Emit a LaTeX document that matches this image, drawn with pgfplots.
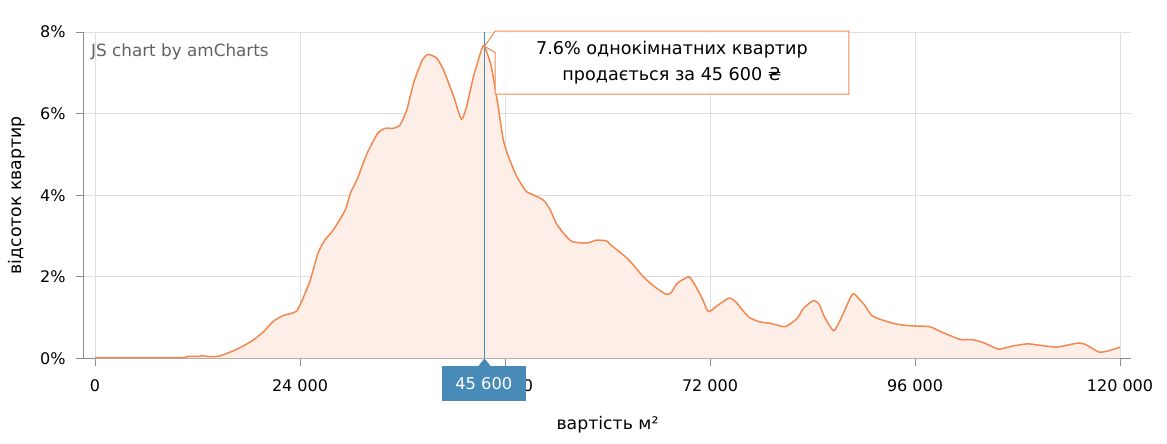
\documentclass[border=0pt]{standalone}
\usepackage{fontspec}
\setmainfont{DejaVu Sans}
\usepackage{pgfplots}
\pgfplotsset{compat=1.18}
\usepackage{pgfplotstable}

\definecolor{linec}{HTML}{F2874F}
\definecolor{fillc}{HTML}{FDEFE7}
\definecolor{bluec}{HTML}{488AB8}
\definecolor{gridc}{HTML}{DEDEDE}
\definecolor{axisc}{HTML}{8C8C8C}

\pgfplotstableread{
x y
0 0.02
10000 0.02
10800 0.05
12000 0.05
12600 0.07
13200 0.05
14300 0.05
15000 0.09
16200 0.19
17300 0.30
18500 0.45
19700 0.65
20800 0.90
22000 1.05
23200 1.12
23600 1.16
24200 1.40
25200 1.92
26100 2.58
26900 2.90
27900 3.15
29300 3.64
29900 4.05
30700 4.40
31800 5.00
33100 5.52
34000 5.64
34900 5.64
35700 5.72
36500 6.09
37300 6.75
38300 7.31
39000 7.45
40000 7.36
40800 7.07
42000 6.41
42900 5.86
43500 6.17
44300 6.90
45300 7.60
45600 7.65
46400 7.15
47200 6.17
47800 5.35
48400 4.95
49400 4.45
50500 4.09
51300 4.01
52500 3.88
53300 3.64
54000 3.31
55000 3.03
55900 2.86
57600 2.83
58700 2.90
59900 2.88
60400 2.78
61600 2.58
62700 2.37
64200 2.00
65500 1.76
66800 1.58
67400 1.60
68200 1.85
69500 2.00
70100 1.85
71000 1.51
71800 1.15
72700 1.27
74200 1.48
75000 1.39
76500 1.02
77800 0.90
79100 0.86
80800 0.78
82200 0.98
82900 1.22
84100 1.42
84800 1.32
85400 1.02
86500 0.68
87500 1.06
88600 1.56
89000 1.56
90100 1.31
90900 1.06
92200 0.94
93900 0.84
95600 0.80
97700 0.78
99000 0.66
100700 0.51
101500 0.46
102800 0.46
104100 0.38
105800 0.23
107500 0.31
109200 0.36
110400 0.33
112600 0.28
115100 0.38
116000 0.34
117500 0.16
118500 0.18
120000 0.28
}\pricedata

\begin{document}
\begin{tikzpicture}[x=1pt,y=1pt]
\useasboundingbox (-84,-85.5) rectangle (1083,358.5);
\begin{axis}[
  at={(0,0)}, anchor=south west,
  scale only axis, width=1047pt, height=326.5pt,
  xmin=-1290, xmax=121290, ymin=0, ymax=8,
  clip=false,
  axis lines*=left,
  axis line style={axisc, line width=1pt},
  xtick={0,24000,48000,72000,96000,120000},
  xticklabels={0,24 000,48 000,72 000,96 000,120 000},
  ytick={0,2,4,6,8},
  yticklabels={0\%,2\%,4\%,6\%,8\%},
  scaled x ticks=false,
  tick align=outside,
  major tick length=8pt,
  tick style={axisc, line width=0.8pt},
  grid=major,
  major grid style={gridc, line width=0.8pt},
  ticklabel style={font=\fontsize{16}{19}\selectfont, text=black},
  xticklabel style={yshift=-10pt},
  yticklabel style={xshift=-7pt},
  xlabel={вартість м²},
  ylabel={відсоток квартир},
  label style={font=\fontsize{17.3}{20}\selectfont},
  xlabel style={at={(axis description cs:0.5,-0.2037)}, anchor=center},
  ylabel style={at={(axis description cs:-0.064,0.5)}, anchor=center},
]
\addplot[draw=none, fill=fillc] table[x=x,y=y] {\pricedata} \closedcycle;
\addplot[linec, line width=1.5pt, line join=round, smooth, tension=0.35] table[x=x,y=y] {\pricedata};
\draw[bluec, line width=1pt] (axis cs:45600,0) -- (axis cs:45600,8);
\node[anchor=west, inner sep=0pt, text=black!62, font=\fontsize{16.8}{19}\selectfont] at (axis cs:-470,7.51) {JS chart by amCharts};
\coordinate (tl) at (axis cs:46830,8.02);
\coordinate (tr) at (axis cs:88270,8.02);
\coordinate (br) at (axis cs:88270,6.48);
\coordinate (bl) at (axis cs:46830,6.48);
\coordinate (pu) at (axis cs:46830,7.50);
\coordinate (apex) at (axis cs:45600,7.65);
\coordinate (tip) at (axis cs:67550,7.24);
\coordinate (la) at (axis cs:40620,-0.176);
\coordinate (lb) at (axis cs:50420,-1.041);
\coordinate (ta) at (axis cs:45600,0);
\coordinate (tb) at (axis cs:44900,-0.18);
\coordinate (tc) at (axis cs:46300,-0.18);
\coordinate (lt) at (axis cs:45520,-0.625);
\end{axis}
\draw[linec, line width=1pt, fill=white, fill opacity=0.85] (tl) -- (tr) -- (br) -- (bl) -- (pu) -- (apex) -- cycle;
\node[align=center, font=\fontsize{17.6}{26}\selectfont] at (tip) {7.6\% однокімнатних квартир\\продається за 45 600 ₴};
\fill[bluec] (la) rectangle (lb);
\fill[bluec] (ta) -- (tb) -- (tc) -- cycle;
\node[text=white, font=\fontsize{16.3}{19}\selectfont] at (lt) {45 600};
\end{tikzpicture}
\end{document}
